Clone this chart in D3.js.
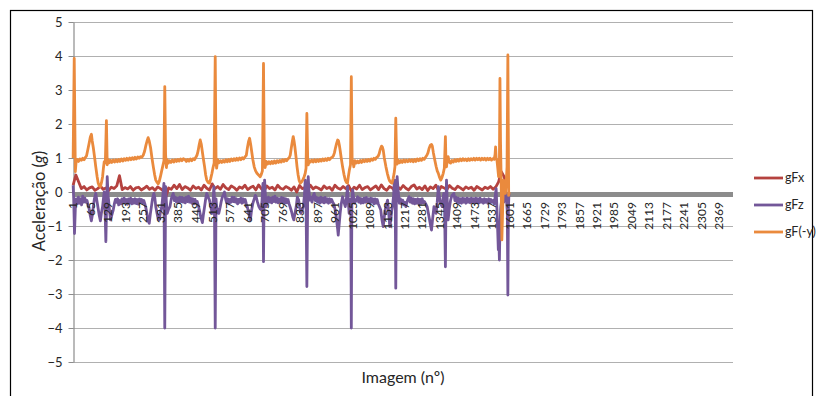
<!DOCTYPE html>
<html>
<head>
<meta charset="utf-8">
<script src="https://cdn.jsdelivr.net/npm/d3@7"></script>
<style>
  body { margin: 0; background: #fff; }
  text { font-family: Lato, "Open Sans", sans-serif; fill: #262626; }
</style>
</head>
<body>
<svg id="chart" width="818" height="396"></svg>
<script>
// number of image categories on the x axis
const frameCount = 2420;

const xTickLabels = [1, 65, 129, 193, 257, 321, 385, 449, 513, 577, 641, 705, 769, 833, 897, 961,
  1025, 1089, 1153, 1217, 1281, 1345, 1409, 1473, 1537, 1601, 1665, 1729, 1793, 1857, 1921, 1985,
  2049, 2113, 2177, 2241, 2305, 2369];
const yTicks = [-5, -4, -3, -2, -1, 0, 1, 2, 3, 4, 5];
const seriesNames = ['gFx', 'gFz', 'gF(-y)'];
const seriesColors = ['#b5423f', '#735799', '#ea8a3d'];

// gFx, read every 10 images starting at image 1
const gFxStart = 1;
const gFxStep = 10;
const gFx = [
  0.2, 0.5, 0.3, 0.1, 0.16, 0.06, 0.12, 0.15, 0.05, 0.1,
  0.17, 0.08, 0.12, 0.04, 0.14, 0.1, 0.18, 0.48, 0.07, 0.13,
  0.09, 0.16, 0.05, 0.12, 0.14, 0.06, 0.11, 0.17, 0.08, 0.13,
  0.05, 0.15, 0.1, 0.04, -0.15, 0.12, 0.08, 0.2, 0.1, 0.22,
  0.07, 0.16, 0.12, 0.05, 0.18, 0.1, 0.14, 0.06, 0.2, 0.11,
  0.06, 0.24, 0.1, 0.16, 0.08, 0.22, 0.12, 0.07, 0.18, 0.13,
  0.05, 0.15, 0.11, 0.2, 0.07, 0.13, 0.17, 0.06, 0.21, 0.1,
  0.03, 0.18, 0.1, 0.14, 0.06, 0.2, 0.11, 0.08, 0.16, 0.12,
  0.05, 0.15, 0.0, 0.19, 0.1, 0.13, 0.07, 0.2, 0.09, 0.15,
  0.11, 0.06, 0.18, 0.1, 0.14, 0.05, 0.2, 0.12, 0.08, 0.16,
  0.1, 0.19, 0.03, 0.14, 0.09, 0.2, 0.07, 0.13, 0.16, 0.06,
  0.12, 0.18, 0.07, 0.21, 0.1, 0.05, 0.16, 0.12, 0.02, 0.15,
  0.08, 0.19, 0.11, 0.06, 0.16, 0.21, 0.09, 0.14, 0.07, 0.18,
  0.04, 0.15, 0.1, 0.2, 0.03, 0.16, 0.12, 0.07, 0.19, 0.11,
  0.07, 0.17, 0.12, 0.06, 0.15, 0.1, 0.14, 0.05, 0.16, 0.11,
  0.06, 0.14, 0.1, 0.16, 0.08, 0.15, 0.3, 0.6, 0.45, 0.2
];

// gFz as [image, value]
const gFz = [
  [1,0.2],[3,-0.2],[6,-1.22],[9,-0.5],[12,-0.2],[16,-0.35],[20,-0.15],[24,-0.33],[28,-0.2],[32,-0.38],
  [36,-0.12],[40,-0.3],[44,-0.18],[48,-0.3],[52,-0.25],[56,-0.4],[60,-0.5],[64,-0.7],[68,-0.85],[71,-0.7],
  [75,-0.43],[79,-0.2],[84,-0.04],[88,-0.25],[93,-0.5],[97,-0.7],[101,-0.85],[105,-0.6],[109,-0.43],[112,-0.2],
  [115,0.0],[118,-0.5],[121,-1.46],[124,-0.3],[126,0.45],[129,-0.1],[131,-0.24],[135,-0.6],[138,-0.82],[142,-0.7],
  [148,-0.53],[152,-0.35],[156,-0.22],[160,-0.3],[164,-0.2],[168,-0.38],[172,-0.25],[176,-0.35],[180,-0.2],[184,-0.32],
  [188,-0.18],[192,-0.33],[196,-0.22],[200,-0.36],[204,-0.2],[208,-0.32],[212,-0.18],[216,-0.35],[220,-0.22],[224,-0.33],
  [228,-0.2],[232,-0.34],[236,-0.22],[240,-0.36],[244,-0.2],[248,-0.3],[252,-0.22],[256,-0.33],[260,-0.25],[264,-0.35],
  [268,-0.48],[272,-0.65],[276,-0.85],[280,-0.92],[284,-0.65],[288,-0.43],[292,-0.2],[297,-0.04],[301,-0.2],[304,-0.43],
  [308,-0.6],[313,-0.8],[317,-0.82],[321,-0.6],[326,-0.43],[330,-0.1],[334,0.25],[337,-4.0],[340,0.16],[343,-0.3],
  [346,-0.63],[351,-0.5],[356,-0.43],[361,-0.2],[365,-0.1],[368,-0.04],[372,-0.25],[376,-0.15],[380,-0.3],[384,-0.18],
  [388,-0.3],[392,-0.15],[396,-0.28],[400,-0.16],[404,-0.3],[408,-0.18],[412,-0.32],[416,-0.15],[420,-0.28],[424,-0.12],
  [428,-0.3],[432,-0.18],[436,-0.33],[440,-0.2],[444,-0.35],[448,-0.22],[452,-0.33],[456,-0.28],[460,-0.4],[464,-0.53],
  [468,-0.7],[472,-0.82],[475,-0.9],[478,-0.7],[483,-0.43],[487,-0.2],[491,-0.04],[496,-0.15],[501,-0.24],[506,-0.45],
  [511,-0.63],[514,-0.3],[517,0.16],[519,-0.2],[522,-4.0],[525,-0.2],[527,-0.43],[531,-0.55],[535,-0.63],[540,-0.45],
  [544,-0.28],[548,-0.15],[552,-0.08],[556,0.0],[560,-0.2],[564,-0.32],[568,-0.2],[572,-0.35],[576,-0.22],[580,-0.3],
  [584,-0.15],[588,-0.28],[592,-0.16],[596,-0.3],[600,-0.2],[604,-0.35],[608,-0.22],[612,-0.3],[616,-0.18],[620,-0.33],
  [624,-0.2],[628,-0.3],[632,-0.22],[636,-0.35],[640,-0.45],[644,-0.58],[648,-0.75],[651,-0.82],[655,-0.55],[660,-0.33],
  [665,-0.2],[669,-0.1],[672,-0.14],[677,-0.3],[682,-0.43],[687,-0.5],[691,-0.53],[694,-0.2],[697,0.25],[699,-2.05],
  [701,-0.3],[703,0.35],[706,-0.1],[709,-0.43],[713,-0.3],[717,-0.15],[721,-0.3],[725,-0.18],[729,-0.32],[733,-0.15],
  [737,-0.28],[741,-0.12],[745,-0.3],[749,-0.18],[753,-0.32],[757,-0.2],[761,-0.3],[765,-0.16],[769,-0.3],[773,-0.18],
  [777,-0.33],[781,-0.2],[785,-0.32],[789,-0.22],[793,-0.35],[797,-0.45],[802,-0.58],[806,-0.72],[810,-0.82],[814,-0.65],
  [819,-0.43],[823,-0.15],[828,-0.24],[832,-0.45],[836,-0.63],[840,-0.55],[845,-0.43],[849,-0.1],[852,0.35],[855,-0.3],
  [858,-2.78],[861,-0.2],[863,0.45],[866,0.0],[869,-0.24],[873,-0.15],[877,-0.3],[881,-0.12],[885,-0.04],[889,-0.25],
  [893,-0.15],[897,-0.3],[901,-0.18],[905,-0.33],[909,-0.15],[913,-0.3],[917,-0.18],[921,-0.32],[925,-0.16],[929,-0.3],
  [933,-0.2],[937,-0.33],[941,-0.2],[945,-0.3],[949,-0.22],[953,-0.3],[957,-0.35],[961,-0.5],[964,-0.63],[968,-0.9],
  [971,-1.1],[973,-1.27],[976,-1.0],[980,-0.63],[984,-0.35],[989,-0.14],[994,-0.3],[999,-0.43],[1003,-0.2],[1007,0.16],
  [1010,-0.3],[1013,-0.63],[1016,-0.5],[1019,-0.2],[1021,-4.0],[1023,-0.3],[1026,0.06],[1030,-0.2],[1033,-0.33],[1038,-0.25],
  [1044,-0.14],[1048,-0.3],[1052,-0.18],[1056,-0.33],[1060,-0.2],[1064,-0.32],[1068,-0.18],[1072,-0.3],[1076,-0.16],[1080,-0.3],
  [1084,-0.2],[1088,-0.33],[1092,-0.18],[1096,-0.3],[1100,-0.2],[1104,-0.35],[1108,-0.2],[1112,-0.33],[1116,-0.22],[1120,-0.35],
  [1125,-0.45],[1129,-0.53],[1133,-0.8],[1138,-1.02],[1141,-0.8],[1145,-0.53],[1150,-0.35],[1154,-0.24],[1158,-0.6],[1162,-1.02],
  [1166,-0.8],[1169,-0.55],[1172,-0.43],[1176,-0.1],[1179,0.35],[1182,-0.2],[1184,-2.83],[1186,-0.3],[1189,0.45],[1193,0.0],
  [1197,-0.33],[1201,-0.2],[1205,-0.35],[1209,-0.24],[1213,-0.38],[1217,-0.3],[1221,-0.43],[1225,-0.3],[1229,-0.2],[1233,-0.14],
  [1237,-0.3],[1241,-0.18],[1245,-0.33],[1249,-0.2],[1253,-0.35],[1257,-0.22],[1261,-0.33],[1265,-0.2],[1269,-0.36],[1273,-0.22],
  [1277,-0.33],[1281,-0.2],[1285,-0.32],[1289,-0.28],[1294,-0.35],[1299,-0.43],[1304,-0.65],[1308,-0.82],[1312,-1.0],[1315,-1.12],
  [1319,-0.8],[1324,-0.43],[1328,-0.5],[1332,-0.63],[1336,-0.3],[1340,0.16],[1344,-0.15],[1348,-0.33],[1354,-0.43],[1357,-0.2],
  [1360,-0.04],[1363,-0.5],[1366,-2.2],[1368,-0.4],[1370,0.35],[1373,-0.3],[1376,-0.82],[1380,-0.5],[1385,-0.24],[1390,-0.1],
  [1397,-0.04],[1401,-0.25],[1405,-0.15],[1409,-0.3],[1413,-0.18],[1417,-0.32],[1421,-0.2],[1425,-0.33],[1429,-0.18],[1433,-0.3],
  [1437,-0.2],[1441,-0.33],[1445,-0.18],[1449,-0.3],[1453,-0.2],[1457,-0.32],[1461,-0.18],[1465,-0.3],[1469,-0.2],[1473,-0.33],
  [1477,-0.18],[1481,-0.3],[1485,-0.2],[1489,-0.32],[1493,-0.18],[1497,-0.3],[1501,-0.22],[1505,-0.33],[1509,-0.2],[1513,-0.3],
  [1517,-0.22],[1521,-0.33],[1525,-0.2],[1529,-0.32],[1533,-0.22],[1537,-0.3],[1541,-0.25],[1545,-0.35],[1549,-0.1],[1552,0.1],
  [1555,-0.5],[1558,-1.2],[1560,-1.7],[1562,-1.4],[1564,-2.0],[1566,-1.0],[1569,-0.43],[1573,-0.2],[1577,-0.04],[1580,-0.3],
  [1584,0.16],[1587,-0.1],[1590,-0.24],[1593,-0.6],[1595,-3.03],[1597,-0.5],[1599,-0.04]
];

// gF(-y) as [image, value]
const gFy = [
  [1,1.0],[5,3.93],[9,0.6],[12,0.9],[16,0.96],[21,0.9],[26,0.97],[31,0.93],[36,0.99],[41,0.95],
  [46,1.02],[50,1.06],[55,1.25],[60,1.45],[64,1.62],[68,1.7],[71,1.5],[75,1.3],[80,1.0],[84,0.74],
  [89,0.45],[93,0.26],[97,0.18],[101,0.16],[105,0.28],[109,0.45],[112,0.7],[115,0.89],[119,0.86],[123,2.1],
  [126,0.8],[130,0.95],[134,0.86],[138,0.93],[143,0.87],[148,0.94],[153,0.88],[158,0.95],[163,0.89],[168,0.96],
  [173,0.9],[178,0.97],[183,0.91],[188,0.98],[193,0.93],[198,0.99],[203,0.94],[208,1.0],[213,0.95],[218,1.01],
  [223,0.96],[228,1.02],[233,0.97],[238,1.03],[243,0.99],[248,1.04],[253,1.02],[258,1.08],[263,1.2],[268,1.38],
  [272,1.5],[276,1.6],[280,1.5],[285,1.3],[290,1.0],[295,0.74],[300,0.5],[304,0.35],[309,0.28],[313,0.24],
  [317,0.32],[321,0.45],[325,0.6],[329,0.74],[334,0.92],[337,3.1],[340,1.1],[343,0.72],[346,0.95],[350,0.85],
  [355,0.92],[360,0.87],[365,0.94],[370,0.88],[375,0.95],[380,0.9],[385,0.96],[390,0.91],[395,0.97],[400,0.92],
  [405,0.98],[411,0.95],[416,0.9],[421,0.96],[426,0.91],[431,0.97],[436,0.92],[441,0.98],[446,0.95],[451,1.02],
  [455,1.08],[459,1.2],[463,1.38],[467,1.53],[471,1.4],[474,1.23],[478,1.0],[483,0.74],[487,0.5],[491,0.35],
  [496,0.28],[501,0.26],[505,0.38],[510,0.55],[514,0.72],[518,0.85],[522,3.98],[525,0.9],[527,0.7],[531,0.95],
  [536,0.86],[541,0.92],[546,0.87],[551,0.93],[556,0.88],[561,0.95],[566,0.89],[571,0.96],[576,0.9],[581,0.97],
  [586,0.92],[591,0.98],[596,0.93],[601,0.99],[606,0.94],[611,1.0],[616,0.95],[621,1.01],[626,0.97],[631,1.03],
  [636,1.08],[640,1.3],[644,1.48],[648,1.58],[652,1.4],[655,1.23],[660,0.95],[665,0.74],[670,0.62],[675,0.55],
  [681,0.5],[687,0.45],[691,0.52],[695,0.62],[699,3.78],[702,0.9],[705,0.72],[709,0.9],[714,0.82],[719,0.89],
  [724,0.83],[729,0.9],[734,0.84],[739,0.91],[744,0.85],[749,0.92],[754,0.87],[759,0.93],[764,0.88],[769,0.95],
  [774,0.9],[779,0.96],[784,0.92],[789,0.98],[793,1.0],[797,1.08],[801,1.3],[805,1.5],[808,1.63],[811,1.5],
  [814,1.33],[818,1.05],[822,0.74],[826,0.5],[830,0.33],[834,0.26],[839,0.3],[843,0.35],[848,0.45],[852,0.55],
  [855,0.7],[858,2.31],[861,1.0],[863,0.8],[867,0.92],[871,0.88],[876,0.94],[881,0.88],[886,0.95],[891,0.89],
  [896,0.95],[901,0.9],[906,0.96],[911,0.91],[916,0.97],[921,0.92],[926,0.98],[931,0.93],[936,0.99],[941,0.95],
  [946,1.0],[951,1.02],[955,1.06],[959,1.15],[963,1.3],[967,1.43],[971,1.53],[974,1.5],[977,1.38],[980,1.23],
  [984,1.0],[989,0.74],[994,0.52],[999,0.35],[1003,0.28],[1007,0.26],[1010,0.45],[1014,0.65],[1018,0.8],[1021,3.39],
  [1024,0.95],[1027,0.9],[1030,0.74],[1034,0.92],[1039,0.85],[1044,0.91],[1049,0.86],[1054,0.93],[1059,0.87],[1064,0.94],
  [1069,0.89],[1074,0.95],[1079,0.9],[1084,0.96],[1089,0.91],[1094,0.97],[1099,0.93],[1104,0.99],[1109,0.96],[1114,1.02],
  [1119,1.05],[1123,1.12],[1127,1.25],[1132,1.35],[1135,1.32],[1138,1.23],[1142,1.0],[1148,0.74],[1153,0.55],[1158,0.4],
  [1162,0.32],[1166,0.28],[1170,0.26],[1174,0.38],[1178,0.55],[1181,0.75],[1184,2.17],[1187,1.0],[1189,0.82],[1193,0.94],
  [1198,0.86],[1203,0.93],[1208,0.87],[1213,0.94],[1218,0.88],[1223,0.94],[1228,0.89],[1233,0.95],[1238,0.9],[1243,0.95],
  [1248,0.89],[1253,0.96],[1258,0.9],[1263,0.97],[1268,0.92],[1273,0.98],[1278,0.93],[1283,0.99],[1288,0.96],[1293,1.02],
  [1298,1.08],[1302,1.15],[1306,1.28],[1311,1.38],[1315,1.4],[1318,1.35],[1322,1.15],[1327,0.94],[1332,0.75],[1336,0.62],
  [1340,0.55],[1345,0.42],[1349,0.35],[1353,0.42],[1358,0.55],[1362,0.7],[1366,1.63],[1368,0.9],[1370,0.74],[1373,0.95],
  [1376,1.04],[1380,0.88],[1385,0.85],[1390,0.93],[1395,0.88],[1400,0.95],[1405,0.9],[1410,0.96],[1415,0.91],[1420,0.97],
  [1425,0.92],[1430,0.98],[1435,0.93],[1440,0.97],[1445,0.92],[1450,0.98],[1455,0.93],[1460,0.98],[1465,0.94],[1470,0.99],
  [1475,0.94],[1480,0.99],[1485,0.95],[1490,0.99],[1495,0.94],[1500,0.99],[1505,0.95],[1510,0.99],[1515,0.94],[1520,0.99],
  [1525,0.95],[1530,0.99],[1535,0.94],[1540,0.98],[1545,0.96],[1548,1.1],[1550,1.33],[1552,1.0],[1555,0.94],[1558,0.7],
  [1561,0.45],[1564,0.9],[1566,3.34],[1568,1.5],[1570,0.6],[1573,-1.41],[1576,-0.5],[1579,0.35],[1582,0.2],[1586,-0.04],
  [1589,0.3],[1592,0.74],[1595,4.03],[1598,-0.1],[1600,0.0]
];

const svg = d3.select('#chart');

svg.append('rect')
  .attr('x', 10.5).attr('y', 10.5)
  .attr('width', 802).attr('height', 400)
  .attr('fill', '#fff')
  .attr('stroke', '#000')
  .attr('stroke-width', 1.2);

const x = d3.scaleLinear().domain([0.5, frameCount + 0.5]).range([73, 733]);
const y = d3.scaleLinear().domain([-5, 5]).range([362, 22]);

// horizontal grid
svg.append('g').selectAll('line')
  .data(yTicks)
  .enter().append('line')
  .attr('x1', x.range()[0]).attr('x2', x.range()[1])
  .attr('y1', d => Math.round(y(d)) + 0.5).attr('y2', d => Math.round(y(d)) + 0.5)
  .attr('stroke', '#b0b0b0')
  .attr('stroke-width', 1.2);

// y axis
const yAxis = svg.append('g')
  .attr('transform', 'translate(73.5,0)')
  .call(d3.axisLeft(y).tickValues(yTicks).tickSize(5).tickSizeOuter(0).tickPadding(6));
yAxis.select('.domain').attr('stroke', '#8c8c8c').attr('stroke-width', 1.2);
yAxis.selectAll('.tick line').attr('stroke', '#8c8c8c');
yAxis.selectAll('.tick text')
  .attr('font-size', 13)
  .attr('font-family', 'Lato, sans-serif')
  .attr('fill', '#262626');

// horizontal axis line (drawn thick, grey)
svg.append('line')
  .attr('x1', x.range()[0]).attr('x2', x.range()[1])
  .attr('y1', y(0) + 2.5).attr('y2', y(0) + 2.5)
  .attr('stroke', '#8c8c8c')
  .attr('stroke-width', 5);

// series
const line = d3.line()
  .x(d => x(d[0]))
  .y(d => y(d[1]));

const gFxPoints = gFx.map((v, i) => [gFxStart + i * gFxStep, v]);
[gFxPoints, gFz, gFy].forEach((pts, i) => {
  svg.append('path')
    .datum(pts)
    .attr('fill', 'none')
    .attr('stroke', seriesColors[i])
    .attr('stroke-width', 2.8)
    .attr('stroke-linejoin', 'round')
    .attr('d', line);
});

// x tick labels, rotated
svg.append('g').selectAll('text')
  .data(xTickLabels)
  .enter().append('text')
  .attr('transform', d => 'translate(' + x(d) + ',202) rotate(-90)')
  .attr('text-anchor', 'end')
  .attr('dy', '0.35em')
  .attr('font-size', 12)
  .text(d => d);

// legend
const legend = svg.append('g').selectAll('g')
  .data(seriesNames)
  .enter().append('g')
  .attr('transform', (d, i) => 'translate(754,' + (178 + i * 27) + ')');
legend.append('line')
  .attr('x1', 0).attr('x2', 29)
  .attr('stroke', (d, i) => seriesColors[i])
  .attr('stroke-width', 2.8);
legend.append('text')
  .attr('x', 31)
  .attr('dy', '0.35em')
  .attr('font-size', 12.5)
  .text(d => d);

// axis titles
svg.append('text')
  .attr('transform', 'translate(39,201) rotate(-90)')
  .attr('text-anchor', 'middle')
  .attr('dy', '0.35em')
  .attr('font-size', 16.5)
  .html('Aceleração (<tspan font-style="italic">g</tspan>)');

svg.append('text')
  .attr('x', 403).attr('y', 377)
  .attr('text-anchor', 'middle')
  .attr('dy', '0.35em')
  .attr('font-size', 16)
  .text('Imagem (nº)');
</script>
</body>
</html>
